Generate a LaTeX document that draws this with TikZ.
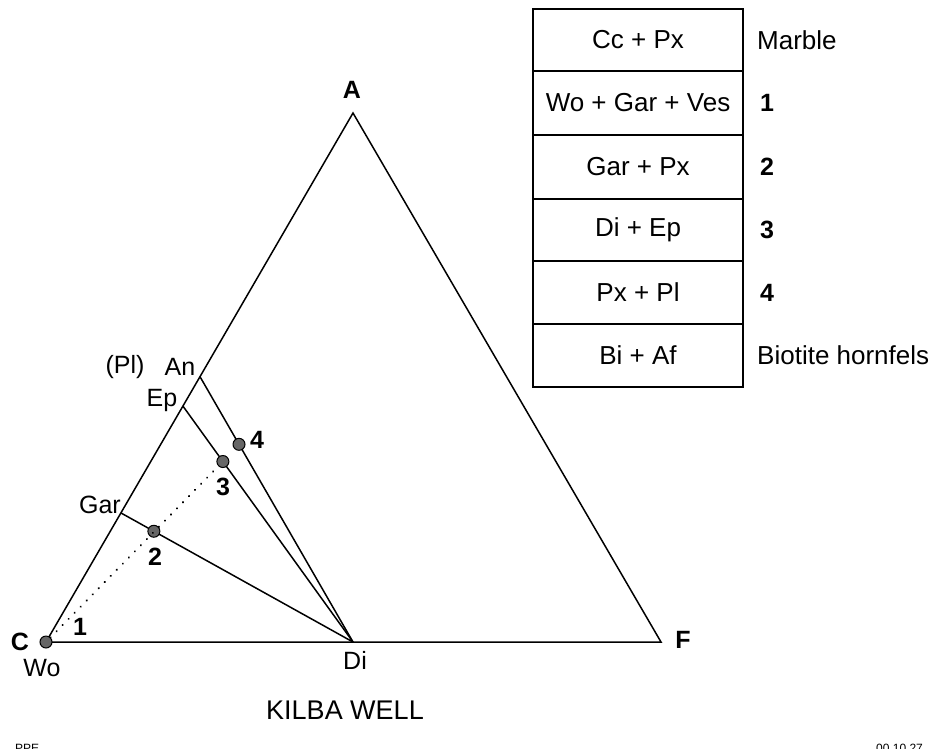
\documentclass[tikz,border=0pt]{standalone}
\usepackage{fontspec}
\setmainfont{Liberation Sans}
\usetikzlibrary{calc}
\begin{document}
\begin{tikzpicture}[x=1pt,y=-1pt,
  lbl/.style={font=\fontsize{25}{29}\selectfont, inner sep=0pt},
  blbl/.style={font=\fontsize{25}{29}\selectfont\bfseries, inner sep=0pt},
  edge/.style={line width=1.5pt},
  dot/.style={circle, draw=black, fill=black!60, line width=1pt, minimum size=12pt, inner sep=0pt},
  cell/.style={draw, line width=1.4pt, minimum width=210pt, font=\fontsize{26}{30}\selectfont, inner sep=0pt},
  side/.style={anchor=west, font=\fontsize{26}{30}\selectfont, inner sep=0pt},
  bside/.style={anchor=west, font=\fontsize{25}{29}\selectfont\bfseries, inner sep=0pt},
  tiny/.style={anchor=north west, font=\fontsize{12}{14}\selectfont, inner sep=0pt},
]
\useasboundingbox (0,0) rectangle (931,748);
% triangle
\coordinate (C) at (46,642);
\coordinate (F) at (661,642);
\coordinate (A) at (353,113);
\coordinate (Di) at (353,642);
\coordinate (Gar) at ($(C)!0.244!(A)$);
\coordinate (Ep) at ($(C)!0.446!(A)$);
\coordinate (An) at ($(C)!0.5016!(A)$);
\coordinate (P2) at ($(Gar)!0.142!(Di)$);
\coordinate (P3) at ($(Ep)!0.235!(Di)$);
\coordinate (P4) at ($(An)!0.255!(Di)$);
\draw[edge, line join=miter] (C) -- (A) -- (F) -- cycle;
\draw[edge] (Gar) -- (Di);
\draw[edge] (Ep) -- (Di);
\draw[edge] (An) -- (Di);
\node[dot] (dC) at (C) {};
\node[dot] (d2) at (P2) {};
\node[dot] (d3) at (P3) {};
\node[dot] (d4) at (P4) {};
\draw[line width=2.2pt, line cap=round, dash pattern=on 0.1pt off 8.5pt] (dC) -- (d3);
% labels
\node[blbl] (lA) at (352,90) {A};
\node[blbl] (lF) at (683,640) {F};
\node[blbl] (lC) at (20,642) {C};
\node[lbl] (lWo) at (42,668) {Wo};
\node[lbl] (lDi) at (355,660) {Di};
\node[blbl] (l1) at (80,627) {1};
\node[blbl] (l2) at (155,557) {2};
\node[blbl] (l3) at (223,487) {3};
\node[blbl] (l4) at (257,440) {4};
\node[lbl, anchor=east] (lGar) at (121,505) {Gar};
\node[lbl] (lEp) at (162,400) {Ep};
\node[lbl] (lPl) at (125,367) {(Pl)};
\node[lbl] (lAn) at (180,367) {An};
\node[font=\fontsize{27}{31}\selectfont, inner sep=0pt] (title) at (345,710) {KILBA WELL};
% table
\node[cell, minimum height=62pt] (r1) at (638,40) {Cc + Px};
\node[cell, minimum height=64pt] (r2) at (638,103) {Wo + Gar + Ves};
\node[cell, minimum height=64pt] (r3) at (638,167) {Gar + Px};
\node[cell, minimum height=62pt] (r4) at (638,230) {Di + Ep};
\node[cell, minimum height=63pt] (r5) at (638,292.5) {Px + Pl};
\node[cell, minimum height=63pt] (r6) at (638,355.5) {Bi + Af};
\node[side] (s1) at (757,40) {Marble};
\node[bside] (s2) at (760,103) {1};
\node[bside] (s3) at (760,167) {2};
\node[bside] (s4) at (760,230) {3};
\node[bside] (s5) at (760,292.5) {4};
\node[side] (s6) at (757,355.5) {Biotite hornfels};
% cut-off footer texts
\node[tiny] (ft1) at (15,744) {PPE};
\node[tiny] (ft2) at (876,744) {00.10.27};
\end{tikzpicture}
\end{document}
